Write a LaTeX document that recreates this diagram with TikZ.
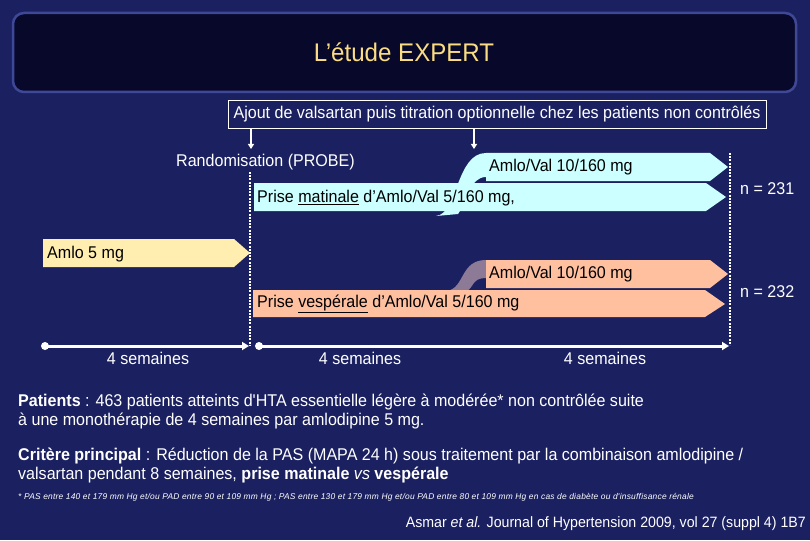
\documentclass[tikz,border=0pt]{standalone}
\usepackage{fontspec}
\setmainfont{Liberation Sans}
\newfontfamily\narrowfont[FakeStretch=0.945]{Liberation Sans}
\newfontfamily\footfont[LetterSpace=2.8]{Liberation Sans}
\usetikzlibrary{arrows.meta}
\definecolor{bg}{RGB}{27,33,96}
\definecolor{titlefill}{RGB}{8,8,42}
\definecolor{titleborder}{RGB}{62,72,150}
\definecolor{titletext}{RGB}{250,220,130}
\definecolor{cyanc}{RGB}{204,255,255}
\definecolor{yellowc}{RGB}{255,238,176}
\definecolor{salmonc}{RGB}{255,192,160}
\definecolor{greyband}{RGB}{140,122,150}
\tikzset{
  armtext/.style={anchor=west, inner sep=0pt, text=black, font=\narrowfont\fontsize{17}{19}\selectfont},
  whitetext/.style={inner sep=0pt, text=white, font=\narrowfont\fontsize{17}{19}\selectfont},
  bodytext/.style={anchor=west, inner sep=0pt, text=white, font=\narrowfont\fontsize{17}{19}\selectfont, align=left},
  dotline/.style={white, line width=1.6pt, dash pattern=on 2pt off 1.2pt},
  downarrow/.style={white, line width=1.3pt, -{Triangle[length=5pt,width=6pt]}},
  timeline/.style={white, line width=3pt, -{Triangle[length=7pt,width=8pt]}},
}
\begin{document}
\begin{tikzpicture}[x=1pt,y=-1pt]
\fill[bg] (0,0) rectangle (810,540);
\useasboundingbox (0,0) rectangle (810,540);

% title
\draw[titleborder, line width=2.5pt, fill=titlefill, rounded corners=11pt] (13,13) rectangle (796,92);
\node[text=titletext, font=\narrowfont\fontsize{25.5}{28}\selectfont] (title) at (404,52) {L’étude EXPERT};

% top box
\node[draw=white, line width=0.8pt, minimum width=538pt, minimum height=28pt, inner sep=0pt, whitetext] (ajout) at (497,114) {Ajout de valsartan puis titration optionnelle chez les patients non contrôlés};
\coordinate (r1) at (251,149);
\coordinate (r2) at (474,149);
\draw[downarrow] (ajout.south -| r1) -- (r1);
\draw[downarrow] (ajout.south -| r2) -- (r2);
\node[whitetext, anchor=west] (rando) at (176,162) {Randomisation (PROBE)};

% dotted lines
\coordinate (d1t) at (250,172);
\coordinate (d1b) at (250,345);
\coordinate (d2t) at (730,153);
\coordinate (d2b) at (730,345);

% cyan arms
\fill[cyanc] (436,216) .. controls (458,214) and (456,153) .. (486,153) -- (486,177) .. controls (470,177) and (468,200) .. (458,214) -- cycle;
\fill[cyanc] (254,183) -- (706,183) -- (726,197) -- (706,211) -- (254,211) -- cycle;
\fill[cyanc] (486,153) -- (710,153) -- (728,167) -- (710,181) -- (486,181) -- cycle;
\node[armtext] (c1) at (489,167) {Amlo/Val 10/160 mg};
\node[armtext] (c2) at (257,198) {Prise \underline{matinale} d’Amlo/Val 5/160 mg,};

% yellow
\fill[yellowc] (43,239) -- (234,239) -- (250,253) -- (234,267) -- (43,267) -- cycle;
\node[armtext] (y1) at (47,254) {Amlo 5 mg};

% salmon arms
\fill[greyband] (447,291) .. controls (465,288) and (460,260) .. (486,260) -- (486,278) .. controls (472,278) and (474,287) .. (467,291) -- cycle;
\fill[salmonc] (253,290) -- (705,290) -- (725,304) -- (705,317) -- (253,317) -- cycle;
\fill[salmonc] (486,260) -- (710,260) -- (728,274) -- (710,288) -- (486,288) -- cycle;
\node[armtext] (s1) at (489,274) {Amlo/Val 10/160 mg};
\node[armtext] (s2) at (257,304) {Prise \underline{vespérale} d’Amlo/Val 5/160 mg};

\draw[dotline] (d1t) -- (d1b);
\draw[dotline] (d2t) -- (d2b);

\node[whitetext, anchor=west] (n1) at (740,189) {n = 231};
\node[whitetext, anchor=west] (n2) at (740,292) {n = 232};

% timeline
\coordinate (t0) at (45,346);
\coordinate (t1) at (249,346);
\coordinate (t2) at (259,346);
\coordinate (t3) at (729,346);
\fill[white] (t0) circle (4pt);
\fill[white] (t2) circle (4pt);
\draw[timeline] (t0) -- (t1);
\draw[timeline] (t2) -- (t3);
\node[whitetext] (w1) at (148,358) {4 semaines};
\node[whitetext] (w2) at (360,358) {4 semaines};
\node[whitetext] (w3) at (605,358) {4 semaines};

% body text
\node[bodytext] (pat) at (18,412) {\textbf{Patients} : 463 patients atteints d'HTA essentielle légère à modérée* non contrôlée suite\\à une monothérapie de 4 semaines par amlodipine 5 mg.};
\node[bodytext] (crit) at (18,465) {\textbf{Critère principal} : Réduction de la PAS (MAPA 24 h) sous traitement par la combinaison amlodipine /\\valsartan pendant 8 semaines, \textbf{prise matinale} \textit{vs} \textbf{vespérale}};
\node[anchor=west, inner sep=0pt, text=white, font=\footfont\fontsize{8.4}{10}\selectfont\itshape] (foot) at (18,497) {* PAS entre 140 et 179 mm Hg et/ou PAD entre 90 et 109 mm Hg ; PAS entre 130 et 179 mm Hg et/ou PAD entre 80 et 109 mm Hg en cas de diabète ou d'insuffisance rénale};
\node[anchor=east, inner sep=0pt, text=white, font=\narrowfont\fontsize{15}{17}\selectfont] (ref) at (806,524) {Asmar \textit{et al.} Journal of Hypertension 2009, vol 27 (suppl 4) 1B7};
\end{tikzpicture}
\end{document}
